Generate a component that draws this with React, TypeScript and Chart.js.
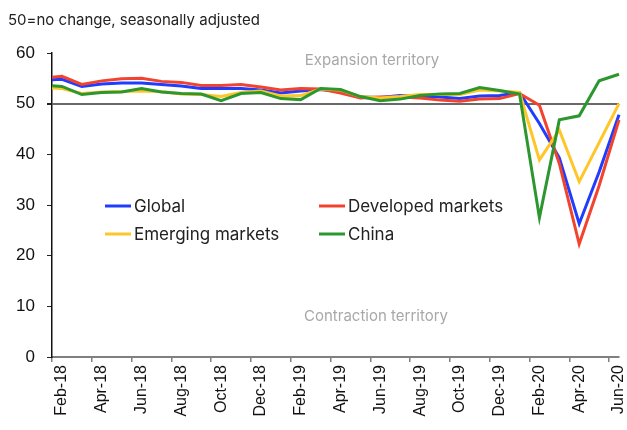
import React, { useEffect, useRef } from "react";
import { Chart, registerables } from "chart.js";

Chart.register(...registerables);

const months = [
  "Jan-18", "Feb-18", "Mar-18", "Apr-18", "May-18", "Jun-18", "Jul-18", "Aug-18", "Sep-18", "Oct-18", "Nov-18", "Dec-18",
  "Jan-19", "Feb-19", "Mar-19", "Apr-19", "May-19", "Jun-19", "Jul-19", "Aug-19", "Sep-19", "Oct-19", "Nov-19", "Dec-19",
  "Jan-20", "Feb-20", "Mar-20", "Apr-20", "May-20", "Jun-20",
];

const globalPmi = [
  54.6, 54.8, 53.4, 53.9, 54.1, 54.1, 53.8, 53.5, 53.0, 53.0, 53.0, 52.7,
  52.1, 52.5, 52.8, 52.4, 51.3, 51.2, 51.6, 51.4, 51.3, 51.0, 51.5, 51.6,
  52.2, 46.1, 39.3, 26.3, 36.5, 47.8,
];
const developedPmi = [
  55.0, 55.4, 53.8, 54.5, 54.9, 55.0, 54.4, 54.2, 53.6, 53.6, 53.8, 53.3,
  52.7, 53.0, 52.9, 52.1, 51.1, 51.3, 51.3, 51.1, 50.7, 50.5, 50.9, 51.0,
  52.0, 49.7, 38.2, 22.3, 33.8, 46.8,
];
const emergingPmi = [
  53.2, 53.0, 52.0, 52.3, 52.4, 52.5, 52.4, 51.9, 51.8, 51.4, 52.2, 52.5,
  51.5, 51.6, 52.9, 52.7, 51.4, 51.1, 51.4, 51.8, 51.8, 51.8, 52.7, 52.5,
  52.2, 38.9, 44.8, 34.6, 42.3, 50.0,
];
const chinaPmi = [
  53.7, 53.4, 51.8, 52.2, 52.3, 53.0, 52.3, 52.0, 51.9, 50.6, 52.0, 52.2,
  51.0, 50.8, 53.0, 52.8, 51.4, 50.6, 50.9, 51.6, 51.9, 52.0, 53.2, 52.6,
  51.9, 27.5, 46.8, 47.6, 54.5, 55.8,
];

const yTicks = [0, 10, 20, 30, 40, 50, 60];
const seriesNames = ["Global", "Developed markets", "Emerging markets", "China"];
const seriesColors = ["#1f3cff", "#f2432f", "#ffc629", "#2b972e"];

const TEXT_FONT = "Inter, 'Noto Sans', sans-serif";
const AXIS_FONT = "'Liberation Sans', Arial, sans-serif";

const overlayPlugin = {
  id: "overlay",
  afterDraw(chart: any) {
    const ctx = chart.ctx;
    ctx.save();
    ctx.fillStyle = "#222";
    ctx.font = `15px ${TEXT_FONT}`;
    ctx.textAlign = "left";
    ctx.textBaseline = "middle";
    ctx.fillText("50=no change, seasonally adjusted", 8, 20);

    ctx.fillStyle = "#a8a8a8";
    ctx.font = `15px ${TEXT_FONT}`;
    ctx.textAlign = "center";
    ctx.fillText("Expansion territory", 372, 60);
    ctx.fillText("Contraction territory", 376, 316);

    const entries = [
      { x: 105, y: 206 },
      { x: 319, y: 206 },
      { x: 105, y: 234 },
      { x: 319, y: 234 },
    ];
    ctx.font = `17px ${TEXT_FONT}`;
    ctx.textAlign = "left";
    entries.forEach((e, i) => {
      ctx.strokeStyle = seriesColors[i];
      ctx.lineWidth = 3;
      ctx.beginPath();
      ctx.moveTo(e.x, e.y);
      ctx.lineTo(e.x + 26, e.y);
      ctx.stroke();
      ctx.fillStyle = "#222";
      ctx.fillText(seriesNames[i], e.x + 29, e.y + 1);
    });
    ctx.restore();
  },
};

export default function App() {
  const canvasRef = useRef<HTMLCanvasElement | null>(null);

  useEffect(() => {
    if (!canvasRef.current) return;
    const allSeries = [globalPmi, developedPmi, emergingPmi, chinaPmi];
    const datasets = allSeries
      .map((vals, i) => ({
        label: seriesNames[i],
        data: vals.map((v, idx) => ({ x: idx, y: v })),
        borderColor: seriesColors[i],
        backgroundColor: seriesColors[i],
        borderWidth: 3,
        pointRadius: 0,
        tension: 0,
        fill: false,
        clip: { left: 0, top: false, right: false, bottom: false },
      }))
      .reverse();

    const chart = new Chart(canvasRef.current, {
      type: "line",
      data: { datasets },
      options: {
        animation: false,
        responsive: false,
        parsing: false as any,
        layout: { padding: { top: 53, right: 8, left: 0, bottom: 0 } },
        plugins: {
          legend: { display: false },
          tooltip: { enabled: false },
          title: { display: false },
        },
        scales: {
          x: {
            type: "linear",
            min: 0.5,
            max: 29,
            afterBuildTicks: (axis: any) => {
              const t = [];
              for (let v = 0.5; v < 29; v += 2) t.push({ value: v });
              axis.ticks = t;
            },
            afterFit: (scale: any) => {
              scale.height = 73;
              scale.paddingLeft = 0;
              scale.paddingRight = 0;
            },
            ticks: {
              autoSkip: false,
              minRotation: 90,
              maxRotation: 90,
              labelOffset: 10,
              padding: 3,
              color: "#111",
              font: { family: AXIS_FONT, size: 16 },
              callback: (v: any) => months[Math.round(Number(v) + 0.5)] ?? "",
            },
            grid: {
              drawOnChartArea: false,
              drawTicks: true,
              tickLength: 5,
              color: "#808080",
              tickColor: "#808080",
              lineWidth: 1.5,
            },
            border: { display: true, color: "#808080", width: 2 },
          },
          y: {
            min: 0,
            max: 60,
            afterBuildTicks: (axis: any) => {
              axis.ticks = yTicks.map((v) => ({ value: v }));
            },
            afterFit: (scale: any) => {
              scale.width = 52;
            },
            ticks: {
              padding: 12,
              color: "#111",
              font: { family: AXIS_FONT, size: 17 },
            },
            grid: {
              drawTicks: true,
              tickLength: 5,
              color: (c: any) => (c.tick && c.tick.value === 50 ? "#6a6a6a" : "rgba(0,0,0,0)"),
              tickColor: "#222",
              lineWidth: (c: any) => (c.tick && c.tick.value === 50 ? 2 : 1),
            },
            border: { display: true, color: "#111", width: 1.5 },
          },
        },
      },
      plugins: [overlayPlugin],
    });
    return () => chart.destroy();
  }, []);

  return (
    <div style={{ position: "absolute", left: 0, top: 0, width: 627, height: 430, background: "#fff" }}>
      <canvas ref={canvasRef} width={627} height={430} style={{ display: "block" }} />
    </div>
  );
}
